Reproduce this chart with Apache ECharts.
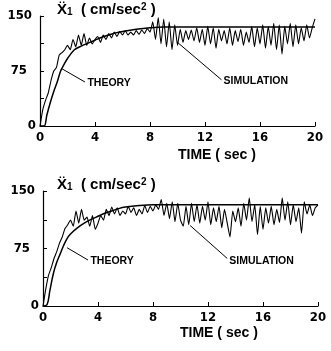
<!DOCTYPE html>
<html><head><meta charset="utf-8">
<script src="https://cdn.jsdelivr.net/npm/echarts@6/dist/echarts.min.js"></script>
<style>html,body{margin:0;padding:0;background:#fff}#c{width:331px;height:351px}</style>
</head><body><div id="c"></div>
<script>
// ---- data ----
const simTime = [0,0.2,0.4,0.6,0.8,1,1.2,1.4,1.6,1.8,
 2,2.2,2.4,2.6,2.8,3,3.2,3.4,3.6,3.8,
 4,4.2,4.4,4.6,4.8,5,5.2,5.4,5.6,5.8,
 6,6.2,6.4,6.6,6.8,7,7.2,7.4,7.6,7.8,
 8,8.2,8.4,8.6,8.8,9,9.2,9.4,9.6,9.8,
 10,10.2,10.4,10.6,10.8,11,11.2,11.4,11.6,11.8,
 12,12.2,12.4,12.6,12.8,13,13.2,13.4,13.6,13.8,
 14,14.2,14.4,14.6,14.8,15,15.2,15.4,15.6,15.8,
 16,16.2,16.4,16.6,16.8,17,17.2,17.4,17.6,17.8,
 18,18.2,18.4,18.6,18.8,19,19.2,19.4,19.6,19.8,
 20];
const sim1 = [0,22,35,45,62,75,80,97,100,104,
 110,104,118,108,124,110,126,110,120,112,
 118,122,114,124,118,126,120,128,122,129,
 124,130,124,128,124,130,125,131,126,133,
 128,142,118,148,112,146,108,142,104,138,
 110,132,114,130,118,131,116,134,114,132,
 110,136,112,134,106,132,116,130,112,134,
 110,130,115,132,110,128,114,136,108,134,
 112,138,106,136,110,140,104,138,98,136,
 112,140,108,138,112,134,116,138,120,134,
 146];
const sim2 = [0,22,40,50,62,71,82,90,101,106,
 112,104,124,108,126,112,116,104,118,100,
 108,118,112,126,118,129,120,128,118,124,
 120,130,122,128,118,126,120,131,122,130,
 124,132,126,139,118,134,114,136,110,134,
 112,104,130,106,134,110,132,108,130,112,
 136,106,128,110,130,102,126,108,90,124,
 110,128,104,134,112,141,110,132,93,130,
 100,128,108,130,106,126,109,141,112,136,
 106,132,110,128,95,136,120,132,118,128,
 132];
const thTime = [0,0.3,0.5,0.75,1,1.25,1.5,1.75,2,2.5,3,3.5,4,4.5,5,5.5,6,7,8,9,10,12,14,16,18,20];
const th1 = [0,0,15,32,47,60,75,84,92,104,109,113,117,121,124,127,129,132,134,135,135,135,135,135,135,135];
const th2 = [0,2,20,42,57,68,79,88,94,102,108,113,117,121,124,127,129,131,132,132,132,132,132,132,132,132];
// annotation anchors [t, value]
const theoryLead1 = [[1.6,78],[3.27,60]], theoryText1 = [3.45,59];
const simLead1 = [[10.0,114],[13.2,63]], simText1 = [13.35,61];
const theoryLead2 = [[1.75,76],[3.27,60]], theoryText2 = [3.45,58];
const simLead2 = [[10.7,105],[13.4,62]], simText2 = [13.55,58];

const zip = (xs, ys) => xs.map((x, i) => [x, ys[i]]);
const condensed = "'Liberation Sans Narrow','DejaVu Sans Condensed','Liberation Sans',sans-serif";
const sans = "'Liberation Sans','DejaVu Sans',sans-serif";

function yAxis(gi){
  return {gridIndex:gi, type:'value', min:0, max:150, interval:37.5,
    axisLine:{show:true,lineStyle:{color:'#000',width:1.2}},
    axisTick:{show:true,inside:true,length:4,lineStyle:{color:'#000'}},
    splitLine:{show:false},
    axisLabel:{margin:4, formatter:v => v===150?'{a|150}':v===75?'{b|75}':v===0?'{c|0}':'',
      rich:{a:{fontFamily:condensed,fontWeight:'bold',fontSize:13,color:'#000',padding:[0,4,0,0]},
            b:{fontFamily:condensed,fontWeight:'bold',fontSize:13,color:'#000',padding:[0,9,0,0]},
            c:{fontFamily:condensed,fontWeight:'bold',fontSize:13,color:'#000',padding:[0,0,0,0]}}}};
}
function xAxis(gi){
  return {gridIndex:gi, type:'value', min:0, max:20, interval:4,
    axisLine:{show:true,lineStyle:{color:'#000',width:1.2}},
    axisTick:{show:true,inside:true,length:4,lineStyle:{color:'#000'}},
    splitLine:{show:false},
    axisLabel:{margin:5,color:'#000',fontFamily:condensed,fontWeight:'bold',fontSize:13}};
}
function annot(lead, txtPos, txt){
  return {
    markLine:{silent:true,symbol:'none',animation:false,label:{show:false},
      lineStyle:{color:'#000',width:1,type:'solid'},
      data:[[{coord:lead[0]},{coord:lead[1]}]]},
    markPoint:{silent:true,animation:false,symbol:'circle',symbolSize:0,
      data:[{coord:txtPos,value:txt}],
      label:{show:true,position:'right',distance:0,formatter:txt,color:'#000',
        fontFamily:sans,fontWeight:'bold',fontSize:10.5}}
  };
}
function titleText(y){
  return {left:52, top:y, text:'{x|X\u0308}{s|1}{n|  ( cm/sec}{p|2}{n| )}',
    textStyle:{rich:{
      x:{fontFamily:sans,fontSize:15,color:'#000',verticalAlign:'bottom'},
      s:{fontFamily:sans,fontSize:10,color:'#000',verticalAlign:'bottom'},
      n:{fontFamily:sans,fontSize:15,color:'#000',verticalAlign:'bottom'},
      p:{fontFamily:sans,fontSize:10,fontWeight:'bold',color:'#000',verticalAlign:'top'}}}};
}

const chart = echarts.init(document.getElementById('c'), null, {renderer:'canvas'});
chart.setOption({
  backgroundColor:'#fff',
  animation:false,
  title:[
    titleText(-3), titleText(172),
    {left:173, top:143, text:'TIME ( sec )', textStyle:{fontFamily:sans,fontWeight:'bold',fontSize:14,color:'#000'}},
    {left:175, top:321, text:'TIME ( sec )', textStyle:{fontFamily:sans,fontWeight:'bold',fontSize:14,color:'#000'}}
  ],
  grid:[{left:40,top:16,width:275,height:110},{left:43,top:191,width:275,height:115}],
  xAxis:[xAxis(0),xAxis(1)],
  yAxis:[yAxis(0),yAxis(1)],
  series:[
    Object.assign({type:'line',xAxisIndex:0,yAxisIndex:0,data:zip(thTime,th1),smooth:0.35,showSymbol:false,
      lineStyle:{color:'#000',width:1.5}}, annot(theoryLead1, theoryText1, 'THEORY')),
    Object.assign({type:'line',xAxisIndex:0,yAxisIndex:0,data:zip(simTime,sim1),smooth:0.15,showSymbol:false,
      lineStyle:{color:'#000',width:1.1}}, annot(simLead1, simText1, 'SIMULATION')),
    Object.assign({type:'line',xAxisIndex:1,yAxisIndex:1,data:zip(thTime,th2),smooth:0.35,showSymbol:false,
      lineStyle:{color:'#000',width:1.5}}, annot(theoryLead2, theoryText2, 'THEORY')),
    Object.assign({type:'line',xAxisIndex:1,yAxisIndex:1,data:zip(simTime,sim2),smooth:0.15,showSymbol:false,
      lineStyle:{color:'#000',width:1.1}}, annot(simLead2, simText2, 'SIMULATION'))
  ]
});
</script></body></html>
